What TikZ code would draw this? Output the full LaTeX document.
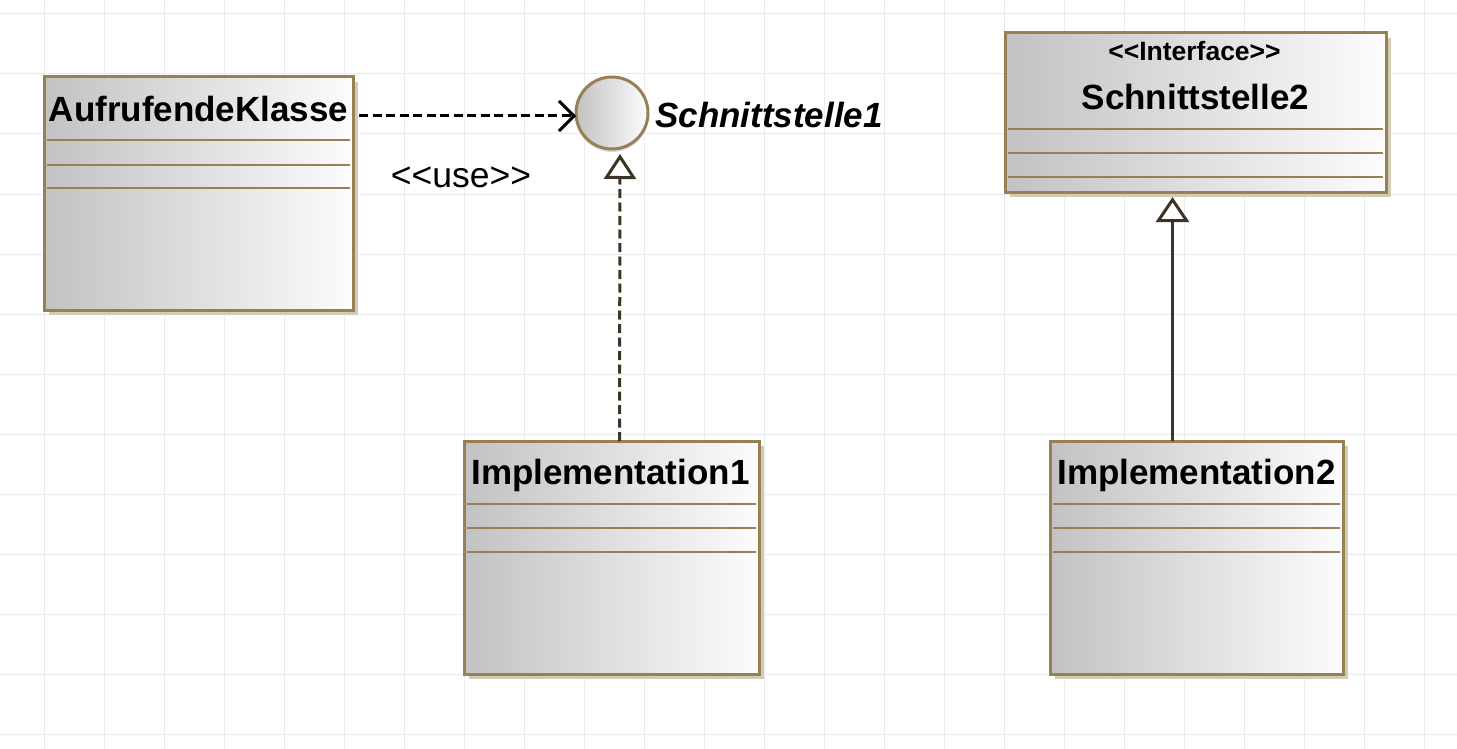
\documentclass[tikz,border=0pt]{standalone}
\usepackage{fontspec}
\setmainfont{Liberation Sans}
\usetikzlibrary{arrows.meta,shadows,calc}
\definecolor{umlborder}{RGB}{150,128,84}
\definecolor{shadowc}{RGB}{212,203,180}
\definecolor{gradL}{RGB}{194,194,194}
\definecolor{gradR}{RGB}{252,252,252}
\definecolor{gridc}{RGB}{235,235,235}
\definecolor{arrowdark}{RGB}{60,52,38}
\newcommand\complines[4]{%
  \foreach \o in {#2,#3,#4}
    \draw[compline] ($(#1.north west)+(3,\o)$) -- ($(#1.north east)+(-3,\o)$);}
\begin{document}
\begin{tikzpicture}[x=1pt,y=-1pt,
  gridline/.style={draw=gridc, line width=1pt},
  classbox/.style={draw=umlborder, line width=3pt, left color=gradL, right color=gradR,
    inner sep=0pt, outer sep=0pt,
    drop shadow={shadow xshift=5pt, shadow yshift=-5pt, fill=shadowc, opacity=1}},
  compline/.style={draw=umlborder, line width=2pt},
  titletext/.style={font=\bfseries\fontsize{35}{40}\selectfont, inner sep=0pt, anchor=base},
  stereo/.style={font=\bfseries\fontsize{26.5}{30}\selectfont, inner sep=0pt, anchor=base},
  depline/.style={draw=black, line width=3pt, dash pattern=on 9pt off 4.5pt},
  realline/.style={draw=arrowdark, line width=3pt, dash pattern=on 9pt off 4.5pt},
  genline/.style={draw=arrowdark, line width=3pt}]
\useasboundingbox (0,0) rectangle (1457,749);
\fill[white] (0,0) rectangle (1457,749);
% grid
\foreach \i in {0,...,23} \draw[gridline] ({44+60*\i},0) -- ({44+60*\i},749);
\foreach \j in {0,...,12} \draw[gridline] (0,{14+60*\j}) -- (1457,{14+60*\j});

% classes
\node[classbox, minimum width=309pt, minimum height=233pt] (auf) at (198.5,193.5) {};
\node[titletext] (auft) at ($(auf.north)+(0,45)$) {AufrufendeKlasse};
\complines{auf}{63}{88}{111}

\node[classbox, minimum width=295pt, minimum height=233pt] (impl1) at (611.5,557.5) {};
\node[titletext] (impl1t) at ($(impl1.north)+(-1,43)$) {Implementation1};
\complines{impl1}{63}{87}{111}

\node[classbox, minimum width=381pt, minimum height=159pt] (int2) at (1195.5,112.5) {};
\node[stereo] (int2s) at ($(int2.north)+(-1,28)$) {<\kern0pt<Interface>\kern0pt>};
\node[titletext] (int2t) at ($(int2.north)+(0,77)$) {Schnittstelle2};
\complines{int2}{96}{120}{144}

\node[classbox, minimum width=293pt, minimum height=233pt] (impl2) at (1196.5,557.5) {};
\node[titletext] (impl2t) at ($(impl2.north)+(0,43)$) {Implementation2};
\complines{impl2}{63}{87}{111}

% interface circle
\node[circle, draw=umlborder, line width=3pt, left color=gradL, right color=gradR,
  minimum size=72pt, inner sep=0pt, outer sep=0pt,
  drop shadow={shadow xshift=0pt, shadow yshift=-3pt, fill=black!15, opacity=1}] (circ) at (612,113) {};
\node[titletext, font=\bfseries\itshape\fontsize{35}{40}\selectfont, anchor=base west] (s1)
  at ($(circ.east)+(7,15)$) {Schnittstelle1};

% use dependency
\draw[depline, -{Straight Barb[length=15pt,width=30pt]}]
  ($(auf.east |- circ.west)+(6,3)$) -- ($(circ.west)+(0,3)$);
\node[inner sep=0pt, anchor=base, font=\fontsize{35.5}{40}\selectfont] (use) at (461,187)
  {<\kern0pt<use>\kern0pt>};

% realization
\draw[realline, -{Triangle[open, length=25pt, width=32pt]}]
  ($(impl1.north)+(8,0)$) -- ($(circ.south)+(8,5)$);

% generalization
\draw[genline, -{Triangle[open, fill=white, length=25pt, width=33pt]}]
  ($(impl2.north)+(-24,0)$) -- ($(int2.south)+(-23,5)$);
\end{tikzpicture}
\end{document}
